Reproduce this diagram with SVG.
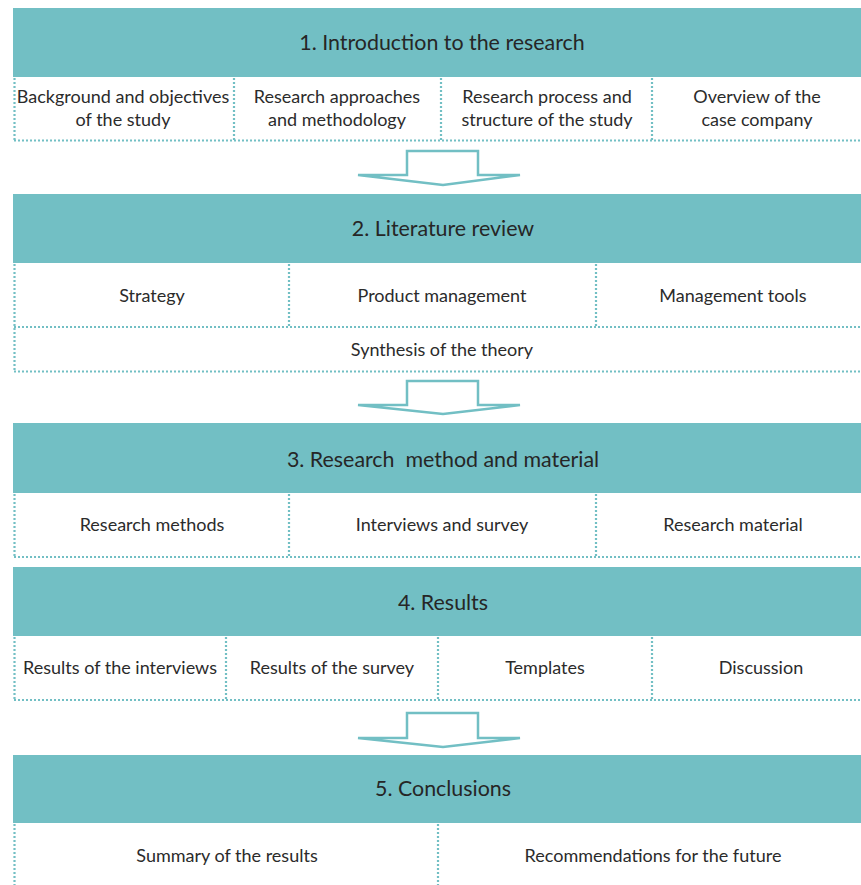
<svg xmlns="http://www.w3.org/2000/svg" width="861" height="885" viewBox="0 0 861 885">
  <style>
    .hdr { fill: #72bfc4; }
    .ht { font-family: Lato, "Liberation Sans", sans-serif; font-size: 21.4px; fill: #262626; text-anchor: middle; dominant-baseline: central; }
    .ct { font-family: Lato, "Liberation Sans", sans-serif; font-size: 18px; fill: #2b2b2b; text-anchor: middle; dominant-baseline: central; }
    .dot { stroke: #72bfc4; stroke-width: 2.2; stroke-dasharray: 2 2; fill: none; }
    .arrow { fill: #ffffff; stroke: #72bfc4; stroke-width: 2.5; stroke-linejoin: miter; }
  </style>
  <rect width="861" height="885" fill="#ffffff"/>

  <!-- Section 1 -->
  <g id="s1">
    <rect class="hdr" x="13" y="8" width="848" height="69"/>
    <text class="ht" x="442" y="42">1. Introduction to the research</text>
    <line class="dot" x1="14.5" y1="78" x2="14.5" y2="140"/>
    <line class="dot" x1="234" y1="78" x2="234" y2="140"/>
    <line class="dot" x1="441" y1="78" x2="441" y2="140"/>
    <line class="dot" x1="652" y1="78" x2="652" y2="140"/>
    <line class="dot" x1="14" y1="140.5" x2="861" y2="140.5"/>
    <g id="s1a"><text class="ct" x="123" y="96">Background and objectives</text><text class="ct" x="123" y="119">of the study</text></g>
    <g id="s1b"><text class="ct" x="337" y="96">Research approaches</text><text class="ct" x="337" y="119">and methodology</text></g>
    <g id="s1c"><text class="ct" x="547" y="96">Research process and</text><text class="ct" x="547" y="119">structure of the study</text></g>
    <g id="s1d"><text class="ct" x="757" y="96">Overview of the</text><text class="ct" x="757" y="119">case company</text></g>
  </g>

  <!-- Section 2 -->
  <g id="s2">
    <rect class="hdr" x="13" y="194" width="848" height="69"/>
    <text class="ht" x="443" y="228">2. Literature review</text>
    <line class="dot" x1="14.5" y1="264" x2="14.5" y2="371"/>
    <line class="dot" x1="289" y1="264" x2="289" y2="327"/>
    <line class="dot" x1="596" y1="264" x2="596" y2="327"/>
    <line class="dot" x1="14" y1="327" x2="861" y2="327"/>
    <line class="dot" x1="14" y1="371.5" x2="861" y2="371.5"/>
    <g id="s2a"><text class="ct" x="152" y="295">Strategy</text></g>
    <g id="s2b"><text class="ct" x="442" y="295">Product management</text></g>
    <g id="s2c"><text class="ct" x="733" y="295">Management tools</text></g>
    <g id="s2d"><text class="ct" x="442" y="349">Synthesis of the theory</text></g>
  </g>

  <!-- Section 3 -->
  <g id="s3">
    <rect class="hdr" x="13" y="423" width="848" height="70"/>
    <text class="ht" x="443" y="459" xml:space="preserve">3. Research  method and material</text>
    <line class="dot" x1="14.5" y1="494" x2="14.5" y2="557"/>
    <line class="dot" x1="289" y1="494" x2="289" y2="557"/>
    <line class="dot" x1="596" y1="494" x2="596" y2="557"/>
    <line class="dot" x1="14" y1="557" x2="861" y2="557"/>
    <g id="s3a"><text class="ct" x="152" y="524">Research methods</text></g>
    <g id="s3b"><text class="ct" x="442" y="524">Interviews and survey</text></g>
    <g id="s3c"><text class="ct" x="733" y="524">Research material</text></g>
  </g>

  <!-- Section 4 -->
  <g id="s4">
    <rect class="hdr" x="13" y="567" width="848" height="69"/>
    <text class="ht" x="443" y="602">4. Results</text>
    <line class="dot" x1="14.5" y1="637" x2="14.5" y2="700"/>
    <line class="dot" x1="226" y1="637" x2="226" y2="700"/>
    <line class="dot" x1="438" y1="637" x2="438" y2="700"/>
    <line class="dot" x1="652" y1="637" x2="652" y2="700"/>
    <line class="dot" x1="14" y1="700" x2="861" y2="700"/>
    <g id="s4a"><text class="ct" x="120" y="667">Results of the interviews</text></g>
    <g id="s4b"><text class="ct" x="332" y="667">Results of the survey</text></g>
    <g id="s4c"><text class="ct" x="545" y="667">Templates</text></g>
    <g id="s4d"><text class="ct" x="761" y="667">Discussion</text></g>
  </g>

  <!-- Section 5 -->
  <g id="s5">
    <rect class="hdr" x="13" y="755" width="848" height="68"/>
    <text class="ht" x="443" y="788">5. Conclusions</text>
    <line class="dot" x1="14.5" y1="824" x2="14.5" y2="885"/>
    <line class="dot" x1="438" y1="824" x2="438" y2="885"/>
    <g id="s5a"><text class="ct" x="227" y="855">Summary of the results</text></g>
    <g id="s5b"><text class="ct" x="653" y="855">Recommendations for the future</text></g>
  </g>

  <!-- Block arrows between sections -->
  <g id="connectors">
    <polygon class="arrow" points="407,151 478,151 478,175 520,175 443,185 358,175 407,175"/>
    <polygon class="arrow" points="407,381 478,381 478,405 520,405 443,414 358,405 407,405"/>
    <polygon class="arrow" points="407,713 478,713 478,738 520,738 443,747 358,738 407,738"/>
  </g>
</svg>
